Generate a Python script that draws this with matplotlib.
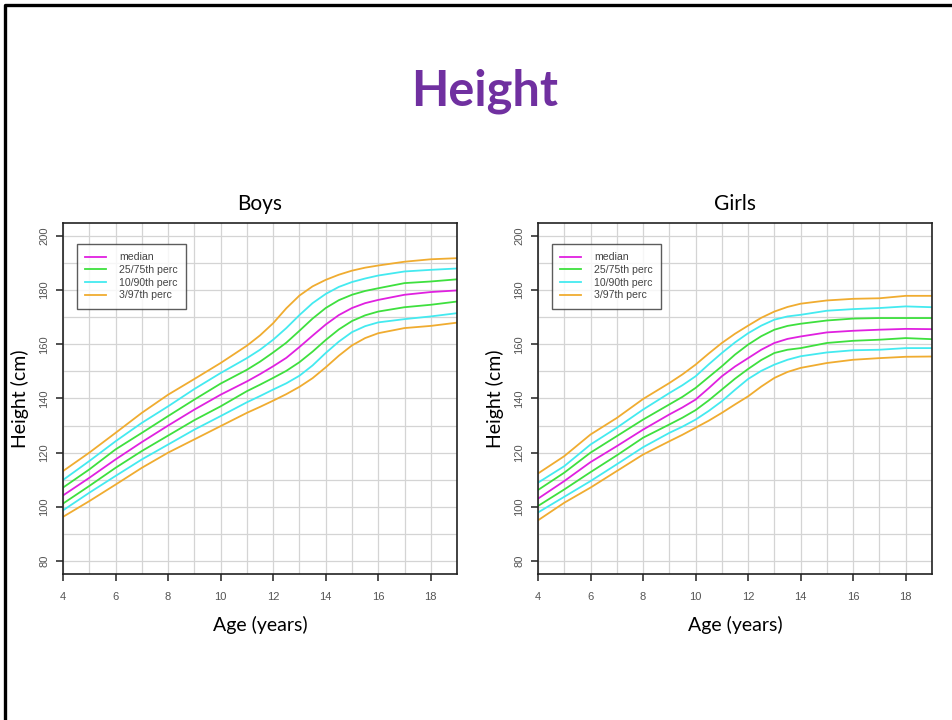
import numpy as np
import matplotlib
matplotlib.use('Agg')
import matplotlib.pyplot as plt
from matplotlib.lines import Line2D

# boys height percentiles (cm), denser through the growth spurt
BOYS_AGES = [4, 5, 6, 7, 8, 9, 10, 11, 11.5, 12, 12.5, 13, 13.5, 14, 14.5, 15, 15.5, 16, 17, 18, 19]
BOYS_P3 = [96.3, 102.1, 108.2, 114.4, 120.0, 124.9, 129.8, 134.7, 136.9, 139.2, 141.6, 144.3, 147.5, 151.5,
           155.8, 159.6, 162.3, 164.1, 166.0, 166.8, 168.0]
BOYS_P10 = [98.7, 105.2, 111.4, 117.5, 123.0, 128.5, 133.5, 138.6, 140.9, 143.3, 145.6, 148.4, 152.2, 156.8,
            161.0, 164.5, 166.7, 168.1, 169.3, 170.3, 171.5]
BOYS_P25 = [101.2, 107.7, 114.4, 120.6, 126.3, 132.0, 137.1, 142.7, 145.1, 147.6, 150.2, 153.4, 157.3, 161.6,
            165.5, 168.6, 170.7, 172.1, 173.7, 174.6, 175.8]
BOYS_P50 = [104.2, 110.7, 117.5, 123.9, 130.0, 135.9, 141.4, 146.3, 149.0, 151.9, 155.0, 159.0, 163.2, 167.3,
            170.8, 173.4, 175.2, 176.4, 178.3, 179.3, 179.9]
BOYS_P75 = [107.1, 113.8, 121.2, 127.3, 133.5, 139.6, 145.5, 150.6, 153.6, 157.0, 160.6, 165.0, 169.5, 173.4,
            176.3, 178.3, 179.7, 180.7, 182.6, 183.2, 184.0]
BOYS_P90 = [109.9, 116.9, 124.2, 131.0, 137.1, 143.5, 149.4, 154.9, 158.0, 161.7, 166.0, 170.8, 175.2, 178.6,
            181.2, 183.0, 184.3, 185.4, 186.9, 187.5, 188.0]
BOYS_P97 = [113.2, 120.0, 127.3, 134.7, 141.4, 147.2, 153.1, 159.5, 163.3, 167.8, 173.3, 178.0, 181.4, 183.8,
            185.7, 187.2, 188.3, 189.1, 190.5, 191.4, 191.8]

# girls height percentiles (cm)
GIRLS_AGES = [4, 5, 6, 7, 8, 9, 9.5, 10, 10.5, 11, 11.5, 12, 12.5, 13, 13.5, 14, 15, 16, 17, 18, 19]
GIRLS_P3 = [95.0, 101.5, 107.1, 113.2, 119.3, 124.2, 126.6, 129.2, 131.8, 134.7, 137.8, 140.8, 144.4, 147.6,
            149.8, 151.3, 153.1, 154.3, 154.9, 155.4, 155.5]
GIRLS_P10 = [97.9, 103.7, 109.5, 115.7, 122.0, 127.3, 129.6, 132.2, 135.4, 139.0, 143.2, 147.2, 150.2, 152.5,
             154.3, 155.6, 157.0, 157.8, 158.0, 158.6, 158.6]
GIRLS_P25 = [100.3, 106.4, 112.8, 119.0, 125.5, 130.4, 132.9, 135.7, 139.3, 143.3, 147.3, 150.9, 154.2, 156.8,
             158.0, 158.6, 160.5, 161.3, 161.7, 162.3, 161.9]
GIRLS_P50 = [103.0, 109.5, 116.5, 122.4, 128.5, 134.1, 136.7, 139.6, 143.8, 148.2, 151.8, 154.9, 158.0, 160.5,
             162.0, 162.9, 164.4, 165.0, 165.4, 165.7, 165.6]
GIRLS_P75 = [106.2, 112.6, 120.0, 126.1, 132.2, 137.8, 140.6, 143.9, 147.9, 151.9, 156.2, 159.9, 163.0, 165.4,
             166.8, 167.6, 168.8, 169.5, 169.7, 169.7, 169.7]
GIRLS_P90 = [108.9, 115.0, 123.0, 129.2, 135.9, 142.0, 144.9, 148.2, 152.6, 156.8, 160.7, 164.1, 166.9, 169.1,
             170.3, 170.9, 172.4, 173.0, 173.4, 174.0, 173.7]
GIRLS_P97 = [112.3, 118.7, 126.7, 132.8, 139.8, 145.7, 148.9, 152.5, 156.6, 160.5, 163.9, 166.9, 169.8, 172.1,
             173.8, 175.0, 176.2, 176.8, 177.0, 177.9, 177.9]

LEGEND_LABELS = ["median", "25/75th perc", "10/90th perc", "3/97th perc"]
COLORS = ["#e020e0", "#3ee03e", "#44eaf0", "#f0ac30"]

X_TICKS = [4, 6, 8, 10, 12, 14, 16, 18]
Y_TICKS = [80, 100, 120, 140, 160, 180, 200]

TICK_FONT = "Liberation Sans"
LABEL_FONT = "Lato"


def draw_panel(ax, title, ages, p3, p10, p25, p50, p75, p90, p97):
    ax.set_xlim(4, 19)
    ax.set_ylim(75.2, 204.8)
    ax.set_xticks(np.arange(4, 20, 1), minor=True)
    ax.set_yticks(np.arange(80, 201, 10), minor=True)
    ax.grid(True, which='both', color='#d4d4d4', linewidth=0.9)
    ax.tick_params(which='minor', length=0)
    ax.set_axisbelow(True)

    pairs = [(p50, None), (p25, p75), (p10, p90), (p3, p97)]
    for (lo, hi), color, label in zip(pairs, COLORS, LEGEND_LABELS):
        ax.plot(ages, lo, color=color, lw=1.3, label=label, solid_joinstyle='round')
        if hi is not None:
            ax.plot(ages, hi, color=color, lw=1.3, solid_joinstyle='round')

    ax.set_xticks(X_TICKS)
    ax.set_yticks(Y_TICKS)
    ax.set_xticklabels([str(t) for t in X_TICKS], fontfamily=TICK_FONT, fontsize=8, color='#555555')
    ax.set_yticklabels([str(t) for t in Y_TICKS], fontfamily=TICK_FONT, fontsize=8, color='#555555',
                       rotation=90, va='center')
    ax.tick_params(which='major', direction='out', length=5, width=1.2, color='#333333')
    ax.tick_params(axis='x', which='major', pad=8)
    ax.tick_params(axis='y', which='major', pad=5)
    for sp in ax.spines.values():
        sp.set_linewidth(1.2)
        sp.set_color('#222222')

    ax.set_title(title, fontfamily=LABEL_FONT, fontsize=15, pad=9)
    ax.set_xlabel("Age (years)", fontfamily=LABEL_FONT, fontsize=14, labelpad=10)
    ax.set_ylabel("Height (cm)", fontfamily=LABEL_FONT, fontsize=14, labelpad=7)

    leg = ax.legend(loc='upper left', bbox_to_anchor=(0.035, 0.94),
                    prop={'family': TICK_FONT, 'size': 7.6}, frameon=True, fancybox=False,
                    handlelength=2.0, handletextpad=1.2, labelspacing=0.25,
                    borderpad=0.8, borderaxespad=0)
    leg.get_frame().set_edgecolor('#333333')
    leg.get_frame().set_linewidth(1.0)
    for t in leg.get_texts():
        t.set_color('#444444')


fig = plt.figure(figsize=(9.52, 7.2), dpi=100)

ax_boys = fig.add_axes([0.0662, 0.2028, 0.4139, 0.4875])
ax_girls = fig.add_axes([0.5651, 0.2028, 0.4139, 0.4875])

draw_panel(ax_boys, "Boys", BOYS_AGES, BOYS_P3, BOYS_P10, BOYS_P25, BOYS_P50, BOYS_P75, BOYS_P90, BOYS_P97)
draw_panel(ax_girls, "Girls", GIRLS_AGES, GIRLS_P3, GIRLS_P10, GIRLS_P25, GIRLS_P50, GIRLS_P75, GIRLS_P90,
           GIRLS_P97)

fig.text(0.5095, 1 - 106 / 720, "Height", ha='center', va='baseline', fontfamily=LABEL_FONT,
         fontweight='bold', fontsize=35, color='#7030a0')

# slide frame along the top and left edges
fig.add_artist(Line2D([5 / 952, 5 / 952, 1.0], [0.0, 1 - 5 / 720, 1 - 5 / 720],
                      transform=fig.transFigure, color='black', lw=2.4))

fig.savefig("out.png", dpi=100)
